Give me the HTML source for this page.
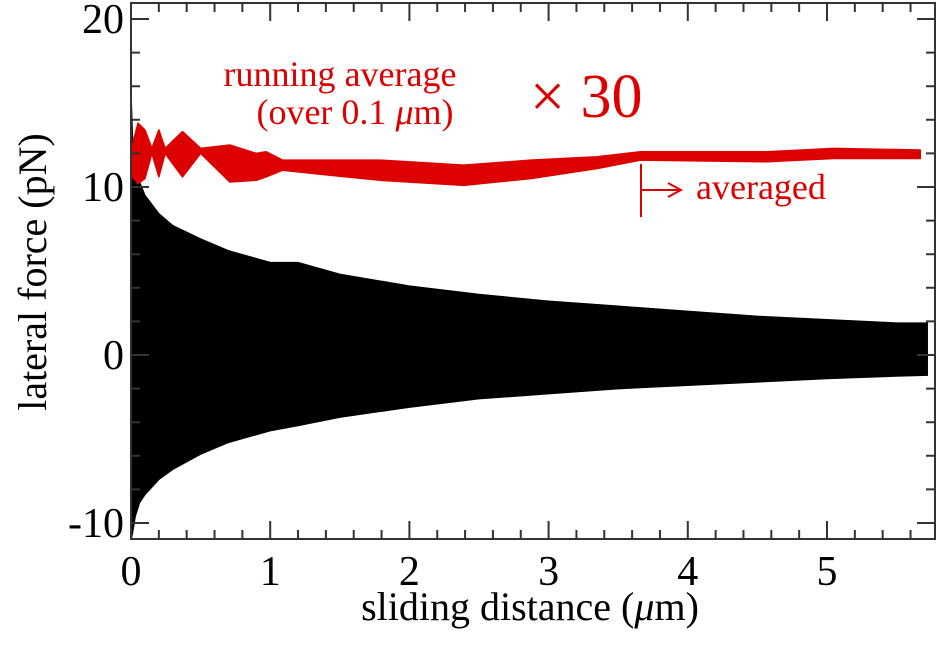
<!DOCTYPE html>
<html><head><meta charset="utf-8"><style>
body{margin:0;background:#fff;}
svg, svg text{font-family:"Liberation Serif","DejaVu Serif","Times New Roman",serif;}
</style></head><body>
<svg id="chart" width="940" height="641" viewBox="0 0 940 641" xmlns="http://www.w3.org/2000/svg" font-family="Liberation Serif, DejaVu Serif, serif">
<g id="marks"></g>
<g id="axes"></g>
<text x="340" y="86" font-size="36" fill="#dd0000" text-anchor="middle">running average</text>
<text x="355" y="124" font-size="36" fill="#dd0000" text-anchor="middle">(over 0.1 <tspan font-style="italic">μ</tspan>m)</text>
<text x="530" y="117" font-size="62" fill="#dd0000">× 30</text>
<g stroke="#dd0000" stroke-width="2" fill="none">
<line x1="641" y1="164" x2="641" y2="217"/><line x1="641" y1="190" x2="680" y2="190"/>
<polyline points="668,183 681,190 668,197"/></g>
<text x="696" y="199" font-size="36" fill="#dd0000">averaged</text>
<text transform="translate(46,272) rotate(-90)" font-size="40" text-anchor="middle">lateral force (pN)</text>
<text x="530" y="620" font-size="40" text-anchor="middle">sliding distance (<tspan font-style="italic">μ</tspan>m)</text>
</svg>
<script>
const blackX=[0,0.01,0.03,0.06,0.1,0.2,0.3,0.5,0.7,1.0,1.2,1.5,2.0,2.5,3.0,3.5,4.0,4.5,5.0,5.5,5.72];
const blackUpper=[15.5,13,11.5,10.3,9.5,8.4,7.7,6.9,6.2,5.5,5.5,4.8,4.1,3.6,3.2,2.9,2.6,2.3,2.1,1.9,1.9];
const blackLower=[-11,-10.6,-9.6,-8.8,-8.3,-7.4,-6.8,-5.9,-5.2,-4.5,-4.2,-3.7,-3.1,-2.6,-2.3,-2.0,-1.8,-1.6,-1.4,-1.25,-1.2];
const redX=[0.01,0.05,0.1,0.15,0.2,0.245,0.37,0.5,0.71,0.9,0.97,1.09,1.43,1.79,2.39,2.87,3.35,3.66,4.57,5.05,5.67];
const redUpper=[12.5,13.8,13.4,12.3,13.4,12.3,13.3,12.3,12.5,12.0,12.1,11.6,11.6,11.6,11.3,11.6,11.8,12.1,12.1,12.3,12.2];
const redLower=[10.6,10.2,10.5,12.0,10.6,12.0,10.6,12.0,10.3,10.4,10.6,11.0,10.7,10.4,10.1,10.5,11.1,11.6,11.5,11.7,11.7];
const xTicks=[0,1,2,3,4,5];
const yTicks=[-10,0,10,20];
const X0=131,X1=935,Y0=3,Y1=539;
const sx=v=>131+139.2*v;
const sy=v=>355-16.8*v;
const NS="http://www.w3.org/2000/svg";
const marks=document.getElementById('marks'),axes=document.getElementById('axes');
function mk(tag,attrs,parent){const e=document.createElementNS(NS,tag);for(const k in attrs)e.setAttribute(k,attrs[k]);parent.appendChild(e);return e;}
function band(xs,up,lo){let d='M'+sx(xs[0])+','+sy(up[0]);for(let i=1;i<xs.length;i++)d+='L'+sx(xs[i])+','+sy(up[i]);for(let i=xs.length-1;i>=0;i--)d+='L'+sx(xs[i])+','+sy(lo[i]);return d+'Z';}
const bp=mk('path',{d:band(blackX,blackUpper,blackLower),fill:'#000',stroke:'#000','stroke-width':1.5},marks);


const rp=mk('path',{d:band(redX,redUpper,redLower),fill:'#dd0000',stroke:'#dd0000','stroke-width':1.5,'stroke-linejoin':'round'},marks);


const fr=mk('rect',{x:X0,y:Y0,width:X1-X0,height:Y1-Y0,fill:'none',stroke:'#333','stroke-width':2},axes);


let tk='';
for(let v=0;v<=5.7;v+=0.2){const x=sx(v);const major=Math.abs(v-Math.round(v))<1e-6;const L=major?18:9;tk+=`M${x},${Y1}v${-L}M${x},${Y0}v${L}`;}
for(let v=-10;v<=20;v+=2){const y=sy(v);const major=v%10===0;const L=major?18:9;tk+=`M${X0},${y}h${L}M${X1},${y}h${-L}`;}
const tp=mk('path',{d:tk,stroke:'#333','stroke-width':2,fill:'none'},axes);


xTicks.forEach(v=>{const t=mk('text',{x:sx(v),y:585,'font-size':42,'text-anchor':'middle','font-family':'Liberation Serif, DejaVu Serif, serif'},axes);t.textContent=v;

});
yTicks.forEach(v=>{const t=mk('text',{x:124,y:sy(v)+14,'font-size':42,'text-anchor':'end','font-family':'Liberation Serif, DejaVu Serif, serif'},axes);t.textContent=v;

});
</script>
</body></html>
